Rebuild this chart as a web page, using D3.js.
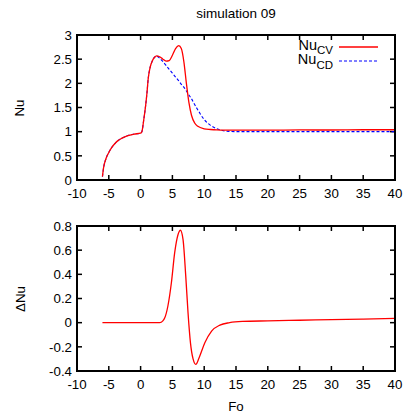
<!DOCTYPE html>
<html>
<head>
<meta charset="utf-8">
<script src="https://cdn.jsdelivr.net/npm/d3@7/dist/d3.min.js"></script>
<style>
  html, body { margin: 0; padding: 0; background: #fff; }
  svg { display: block; }
  text { font-family: "Liberation Sans", Arial, sans-serif; fill: #000; }
</style>
</head>
<body>
<svg id="chart" width="408" height="419"></svg>
<script>
// ---- Data ----
const title = "simulation 09";
const xTicks = [-10, -5, 0, 5, 10, 15, 20, 25, 30, 35, 40];
const yTicksTop = [0, 0.5, 1, 1.5, 2, 2.5, 3];
const yTicksBottom = [-0.4, -0.2, 0, 0.2, 0.4, 0.6, 0.8];

const fo =   [-6.0, -5.8, -5.5, -5.0, -4.5, -4.0, -3.5, -3.0, -2.0, -1.0, 0.0, 0.2, 0.5, 0.8, 1.0, 1.2, 1.5, 1.8, 2.2, 2.5, 3.0, 3.5, 4.0, 4.5, 5.0, 5.5, 6.0, 6.4, 6.8, 7.2, 7.6, 8.0, 8.5, 9.0, 10.0, 11.0, 12.0, 13.0, 14.0, 15.0, 20.0, 25.0, 30.0, 35.0, 40.0];
const nuCV = [0.07, 0.27, 0.42, 0.57, 0.68, 0.76, 0.82, 0.86, 0.92, 0.95, 0.97, 1.00, 1.25, 1.55, 1.80, 2.10, 2.33, 2.45, 2.54, 2.57, 2.55, 2.50, 2.46, 2.47, 2.58, 2.72, 2.78, 2.72, 2.45, 2.00, 1.60, 1.34, 1.18, 1.11, 1.06, 1.045, 1.035, 1.03, 1.03, 1.03, 1.03, 1.035, 1.035, 1.04, 1.04];
const nuCD = [0.07, 0.27, 0.42, 0.57, 0.68, 0.76, 0.82, 0.86, 0.92, 0.95, 0.97, 1.00, 1.25, 1.55, 1.80, 2.10, 2.33, 2.45, 2.54, 2.56, 2.52, 2.45, 2.37, 2.29, 2.21, 2.13, 2.05, 1.98, 1.92, 1.84, 1.76, 1.68, 1.56, 1.45, 1.25, 1.13, 1.06, 1.02, 1.005, 1.0, 1.0, 1.0, 1.0, 1.0, 1.0];

const foD = [-6.0, 3.0, 3.5, 3.8, 4.3, 4.84, 5.36, 5.89, 6.26, 6.67, 7.1, 7.46, 7.84, 8.25, 8.68, 9.2, 10.1, 11.16, 12.47, 14.0, 16.0, 20.0, 25.0, 30.0, 35.0, 40.0];
const dNu = [0.0, 0.0, 0.015, 0.04, 0.14, 0.33, 0.58, 0.73, 0.765, 0.69, 0.385, 0.08, -0.167, -0.30, -0.345, -0.29, -0.167, -0.07, -0.02, 0.0, 0.01, 0.015, 0.02, 0.025, 0.03, 0.035];

// ---- Layout ----
const svg = d3.select("#chart");
const L = 77, R = 395;
const top1 = 35, bot1 = 180;
const top2 = 226, bot2 = 371;
const x = d3.scaleLinear().domain([-10, 40]).range([L, R]);
const y1 = d3.scaleLinear().domain([0, 3]).range([bot1, top1]);
const y2 = d3.scaleLinear().domain([-0.4, 0.8]).range([bot2, top2]);
const TL = 5;

svg.append("text").attr("x", (L + R) / 2).attr("y", 18)
  .attr("text-anchor", "middle").attr("font-size", 13.5).text(title);

function panel(y, yTicks, yTop, yBot, fmt) {
  const g = svg.append("g");
  const tk = g.append("g").attr("stroke", "#000").attr("stroke-width", 1.5);
  xTicks.forEach(t => {
    tk.append("line").attr("x1", x(t)).attr("x2", x(t)).attr("y1", yBot).attr("y2", yBot - TL);
    tk.append("line").attr("x1", x(t)).attr("x2", x(t)).attr("y1", yTop).attr("y2", yTop + TL);
  });
  yTicks.forEach(t => {
    tk.append("line").attr("x1", L).attr("x2", L + TL).attr("y1", y(t)).attr("y2", y(t));
    tk.append("line").attr("x1", R).attr("x2", R - TL).attr("y1", y(t)).attr("y2", y(t));
  });
  xTicks.forEach(t => {
    g.append("text").attr("x", x(t)).attr("y", yBot + 18)
      .attr("text-anchor", "middle").attr("font-size", 13.3).text(t);
  });
  yTicks.forEach(t => {
    g.append("text").attr("x", 72).attr("y", y(t) + 4.7)
      .attr("text-anchor", "end").attr("font-size", 13.3).text(fmt(t));
  });
  return g;
}

const fmtTop = d => String(d);
const fmtBot = d => String(+d.toFixed(1));

const g1 = panel(y1, yTicksTop, top1, bot1, fmtTop);
const g2 = panel(y2, yTicksBottom, top2, bot2, fmtBot);

const lineTop = d3.line().x((d, i) => x(fo[i])).y(d => y1(d)).curve(d3.curveMonotoneX);
g1.append("path").datum(nuCD).attr("d", lineTop).attr("fill", "none")
  .attr("stroke", "#0000ff").attr("stroke-width", 1.1).attr("stroke-dasharray", "3,2");
g1.append("path").datum(nuCV).attr("d", lineTop).attr("fill", "none")
  .attr("stroke", "#ff0000").attr("stroke-width", 1.3);

const lineD = d3.line().x((d, i) => x(foD[i])).y(d => y2(d)).curve(d3.curveMonotoneX);
g2.append("path").datum(dNu).attr("d", lineD).attr("fill", "none")
  .attr("stroke", "#ff0000").attr("stroke-width", 1.3);

[[top1, bot1], [top2, bot2]].forEach(([t, b]) => {
  svg.append("rect").attr("x", L).attr("y", t).attr("width", R - L).attr("height", b - t)
    .attr("fill", "none").attr("stroke", "#000").attr("stroke-width", 2);
});

svg.append("text").attr("transform", "translate(24,108) rotate(-90)")
  .attr("text-anchor", "middle").attr("font-size", 13.3).text("Nu");
svg.append("text").attr("transform", "translate(25,299) rotate(-90)")
  .attr("text-anchor", "middle").attr("font-size", 13.3).text("ΔNu");
svg.append("text").attr("x", 236).attr("y", 411)
  .attr("text-anchor", "middle").attr("font-size", 13.3).text("Fo");

// legend
const legend = [
  { name: "Nu", sub: "CV", color: "#ff0000", dash: null, y: 47, base: 49.5 },
  { name: "Nu", sub: "CD", color: "#0000ff", dash: "3,2", y: 61, base: 64 }
];
legend.forEach(l => {
  const t = svg.append("text").attr("x", 333).attr("y", l.base).attr("text-anchor", "end").attr("font-size", 14.5);
  t.append("tspan").text(l.name);
  t.append("tspan").attr("font-size", 11.5).attr("dy", 4.5).text(l.sub);
  svg.append("line").attr("x1", 339).attr("x2", 378).attr("y1", l.y).attr("y2", l.y)
    .attr("stroke", l.color).attr("stroke-width", l.dash ? 1.1 : 1.3)
    .attr("stroke-dasharray", l.dash);
});
</script>
</body>
</html>
